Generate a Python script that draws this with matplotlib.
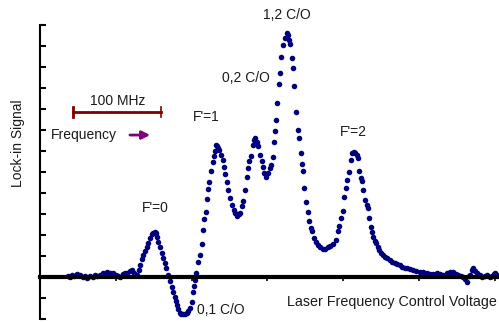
import matplotlib.pyplot as plt

plt.rcParams['font.family'] = ['Liberation Sans', 'DejaVu Sans']

# laser frequency control voltage (arb. units) and lock-in signal (arb. units)
voltage = [
    0.37, 0.40, 0.42, 0.45, 0.49, 0.53, 0.57, 0.59, 0.62, 0.66, 0.70, 0.73, 0.75, 0.79, 0.83,
    0.86, 0.88, 0.92, 0.96, 1.00, 1.03, 1.06, 1.09, 1.12, 1.15, 1.19, 1.21, 1.24, 1.28, 1.31,
    1.32, 1.35, 1.36, 1.39, 1.41, 1.42, 1.45, 1.48, 1.49, 1.52, 1.53, 1.54, 1.56, 1.58, 1.61,
    1.62, 1.65, 1.66, 1.69, 1.72, 1.74, 1.75, 1.78, 1.79, 1.81, 1.82, 1.85, 1.86, 1.89, 1.91,
    1.94, 1.95, 1.98, 2.01, 2.02, 2.03, 2.04, 2.06, 2.08, 2.11, 2.14, 2.15, 2.16, 2.19, 2.20,
    2.22, 2.23, 2.26, 2.28, 2.30, 2.31, 2.32, 2.34, 2.35, 2.36, 2.39, 2.41, 2.43, 2.44, 2.47,
    2.48, 2.51, 2.53, 2.56, 2.57, 2.60, 2.63, 2.64, 2.66, 2.68, 2.70, 2.73, 2.74, 2.76, 2.78,
    2.81, 2.82, 2.84, 2.86, 2.88, 2.90, 2.93, 2.94, 2.96, 2.98, 3.01, 3.03, 3.05, 3.07, 3.09,
    3.10, 3.11, 3.13, 3.15, 3.17, 3.18, 3.21, 3.23, 3.26, 3.27, 3.28, 3.30, 3.32, 3.34, 3.35,
    3.38, 3.40, 3.42, 3.44, 3.46, 3.47, 3.48, 3.51, 3.54, 3.55, 3.58, 3.59, 3.61, 3.64, 3.67,
    3.69, 3.73, 3.76, 3.80, 3.83, 3.87, 3.91, 3.93, 3.94, 3.97, 4.00, 4.01, 4.04, 4.05, 4.08,
    4.10, 4.12, 4.14, 4.16, 4.18, 4.20, 4.21, 4.23, 4.25, 4.26, 4.29, 4.31, 4.33, 4.34, 4.37,
    4.38, 4.39, 4.42, 4.43, 4.46, 4.47, 4.50, 4.53, 4.55, 4.58, 4.62, 4.64, 4.68, 4.71, 4.75,
    4.78, 4.82, 4.84, 4.88, 4.92, 4.96, 5.01, 5.05, 5.11, 5.15, 5.18, 5.24, 5.28, 5.32, 5.37,
    5.41, 5.45, 5.49, 5.51, 5.55, 5.58, 5.61, 5.63, 5.66, 5.67, 5.70, 5.71, 5.74, 5.77, 5.80,
    5.83, 5.87, 5.90, 5.94, 5.96, 5.99, 6.00, 6.03,
]
signal = [
    0.05, 0.00, 0.10, 0.05, 0.14, 0.10, 0.00, 0.05, -0.05, 0.05, 0.00, 0.10, 0.05, 0.10, 0.19,
    0.14, 0.24, 0.19, 0.19, 0.10, 0.05, 0.00, 0.14, 0.19, 0.19, 0.29, 0.33, 0.19, 0.10, 0.33,
    0.57, 0.86, 1.05, 1.24, 1.43, 1.62, 1.86, 2.05, 2.10, 2.14, 2.10, 1.90, 1.67, 1.43, 1.14,
    0.90, 0.67, 0.43, 0.10, -0.19, -0.48, -0.71, -0.95, -1.14, -1.33, -1.52, -1.71, -1.76, -1.76, -1.76,
    -1.71, -1.62, -1.48, -1.19, -0.71, -0.43, -0.14, 0.19, 0.71, 1.05, 1.57, 2.24, 2.76, 3.10, 3.71,
    4.19, 4.52, 5.05, 5.48, 5.76, 6.00, 6.29, 6.24, 6.14, 6.05, 5.81, 5.57, 5.24, 4.90, 4.52,
    4.14, 3.76, 3.43, 3.19, 3.05, 2.90, 3.00, 3.05, 3.38, 3.62, 4.14, 4.76, 5.19, 5.52, 5.76,
    6.29, 6.52, 6.62, 6.43, 6.24, 5.81, 5.52, 5.24, 4.95, 4.76, 4.95, 5.19, 5.33, 5.71, 6.43,
    6.95, 7.48, 8.29, 9.19, 9.71, 10.48, 11.05, 11.38, 11.62, 11.52, 11.29, 11.10, 10.43, 9.95, 9.10,
    7.86, 7.00, 6.62, 5.90, 5.38, 5.05, 4.24, 3.57, 3.10, 2.67, 2.33, 2.19, 1.86, 1.67, 1.52,
    1.43, 1.33, 1.33, 1.43, 1.48, 1.57, 1.76, 2.19, 2.43, 2.81, 3.14, 3.81, 4.24, 4.62, 5.00,
    5.57, 5.90, 5.95, 5.90, 5.81, 5.67, 5.05, 4.71, 4.57, 4.14, 3.67, 3.43, 3.29, 2.81, 2.38,
    2.14, 1.90, 1.71, 1.62, 1.43, 1.29, 1.14, 1.05, 0.95, 0.90, 0.81, 0.71, 0.67, 0.62, 0.57,
    0.48, 0.43, 0.43, 0.38, 0.33, 0.29, 0.24, 0.24, 0.19, 0.14, 0.14, 0.19, 0.14, 0.10, 0.19,
    0.24, 0.24, 0.14, 0.10, 0.05, 0.00, -0.10, -0.24, 0.05, 0.10, 0.33, 0.43, 0.29, 0.19, 0.10,
    0.00, 0.05, 0.10, 0.00, 0.05, 0.14, 0.19, 0.10,
]

labels = ["F'=0", "0,1 C/O", "F'=1", "0,2 C/O", "1,2 C/O", "F'=2"]
label_x = [1.52, 2.07, 2.20, 2.72, 3.26, 4.13]
label_y = [3.29, -1.57, 7.62, 9.48, 12.48, 6.90]
label_ha = ['center', 'left', 'center', 'center', 'center', 'center']

txt = '#1a1a1a'

fig = plt.figure(figsize=(4.99, 3.22), dpi=100)
ax = fig.add_axes([40 / 499, 3 / 322, 457 / 499, 294 / 322])

ax.plot(voltage, signal, 'o', color='#00007f', ms=4.0, mec='none', clip_on=False)

ax.set_xlim(0, 6.03)
ax.set_ylim(-2, 12)

for s in ['top', 'right']:
    ax.spines[s].set_visible(False)
ax.spines['bottom'].set_position(('data', 0))
ax.spines['bottom'].set_linewidth(3)
ax.spines['left'].set_linewidth(1.5)
ax.set_xticks(range(1, 7))
ax.set_yticks(range(-2, 13))
ax.tick_params(axis='x', direction='out', length=3, width=1.2, labelbottom=False)
ax.tick_params(axis='y', direction='in', length=4, width=1.5, labelleft=False)

for t, x, y, ha in zip(labels, label_x, label_y, label_ha):
    ax.text(x, y, t, ha=ha, va='center', fontsize=10, color=txt, clip_on=False)

ax.text(6.03, -1.19, 'Laser Frequency Control Voltage', ha='right', va='center',
        fontsize=10.3, color=txt)
fig.text(18 / 499, 1 - 143 / 322, 'Lock-in Signal', rotation=90, ha='center',
         va='center', fontsize=10, color=txt)

# 100 MHz scale bar
ax.plot([0.435, 1.596], [7.86, 7.86], color='#800000', lw=2)
ax.plot([0.435, 0.435], [7.62, 8.10], color='#800000', lw=2)
ax.plot([1.596, 1.596], [7.62, 8.10], color='#800000', lw=1.2)
ax.text(1.02, 8.38, '100 MHz', ha='center', va='center', fontsize=10, color=txt)

ax.text(0.145, 6.76, 'Frequency', ha='left', va='center', fontsize=10, color=txt)
ax.annotate('', xy=(1.49, 6.76), xytext=(1.15, 6.76),
            arrowprops=dict(arrowstyle='-|>', color='#800080', lw=2, mutation_scale=12))

fig.savefig('out.png', dpi=100)
